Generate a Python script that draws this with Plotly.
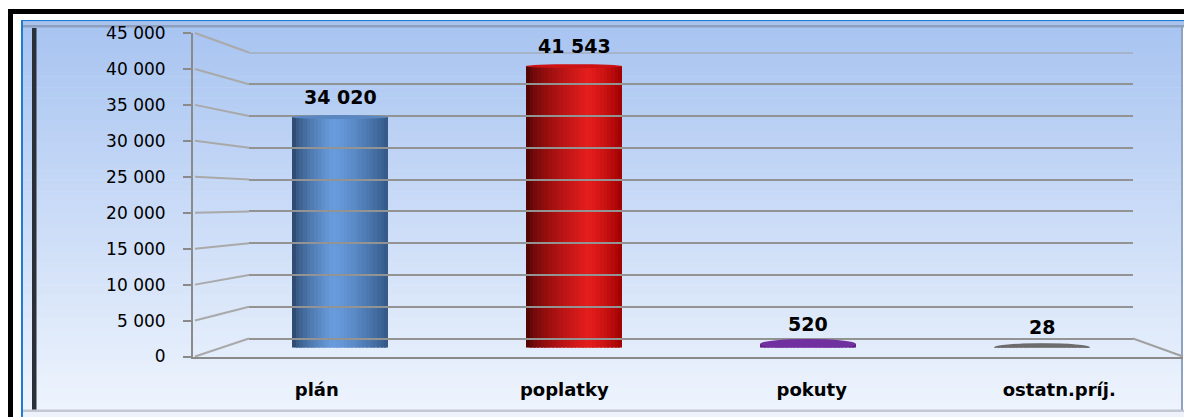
import plotly.graph_objects as go

# ---------------- data ----------------
categories = ["plán", "poplatky", "pokuty", "ostatn.príj."]
values = [34020, 41543, 520, 28]
y_tick_values = [0, 5000, 10000, 15000, 20000, 25000, 30000, 35000, 40000, 45000]
y_max = 45000

# ---------------- style ----------------
W, H = 1184, 417
# cylinder shading: (left dark, highlight, right dark, highlight position)
shades = [
    ((36, 62, 96), (104, 156, 222), (52, 88, 134), 0.42),
    ((66, 0, 0), (228, 28, 28), (158, 0, 0), 0.64),
    ((84, 26, 122), (142, 72, 192), (92, 32, 132), 0.50),
    ((84, 84, 84), (132, 132, 132), (92, 92, 92), 0.50),
]
top_colors = ["#5a86c2", "#cc1212", "#7030a0", "#6c6c6c"]
bottom_colors = ["#7ea6da", "#d84848", "#b080d0", "#a4a4a4"]
cap_half = [2, 2, 5, 4]

# pane geometry (pixels)
FX0, FX1, FY0, FY1 = 193, 1183, 356.5, 33      # front plane
BX0, BX1, BY0, BY1 = 249, 1133, 338.5, 52.5    # back wall
MX0, MX1, MY0, MY1 = 223, 1159, 347.5, 42.75   # mid depth (bars)
BAR_W = 0.41
N_STRIPES = 26


def px(x):
    return x / W


def py(y):
    return 1 - y / H


def lerp(a, b, t):
    return tuple(int(round(a[k] + (b[k] - a[k]) * t)) for k in range(3))


def shade(i, t):
    left, hl, right, p = shades[i]
    if t <= p:
        c = lerp(left, hl, (t / p) ** 0.6)
    else:
        c = lerp(hl, right, ((t - p) / (1 - p)) ** 1.4)
    return "rgb(%d,%d,%d)" % c


fig = go.Figure()

# cylinder stripes
for s in range(N_STRIPES):
    t = (s + 0.5) / N_STRIPES
    off = -BAR_W / 2 + s * BAR_W / N_STRIPES
    wid = min(BAR_W / N_STRIPES * 1.6, BAR_W / 2 - off)
    fig.add_trace(go.Bar(
        x=list(range(len(categories))), y=values,
        offset=off, width=wid,
        marker=dict(color=[shade(i, t) for i in range(len(categories))],
                    line=dict(width=0)),
        xaxis="x", yaxis="y", hoverinfo="skip", showlegend=False,
    ))

# invisible traces so the other axes get drawn
fig.add_trace(go.Scatter(x=[0], y=[0], xaxis="x2", yaxis="y2", mode="markers",
                         marker=dict(opacity=0), hoverinfo="skip", showlegend=False))
fig.add_trace(go.Scatter(x=categories, y=[0] * len(categories), xaxis="x3", yaxis="y3",
                         mode="markers", marker=dict(opacity=0), hoverinfo="skip",
                         showlegend=False))

shapes = []
# background gradient
top_c, bot_c = (168, 196, 241), (238, 244, 253)
y_start, y_end = 27, 410
nb = 70
for b in range(nb):
    ya = y_start + (y_end - y_start) * b / nb
    yb = y_start + (y_end - y_start) * (b + 1) / nb + 0.6
    c = lerp(top_c, bot_c, (b + 0.5) / nb)
    shapes.append(dict(type="rect", xref="paper", yref="paper", layer="below",
                       x0=px(23), x1=px(1183), y0=py(yb), y1=py(ya),
                       fillcolor="rgb(%d,%d,%d)" % c, line=dict(width=0)))


def rect(x0, y0, x1, y1, color):
    shapes.append(dict(type="rect", xref="paper", yref="paper", layer="below",
                       x0=px(x0), x1=px(x1), y0=py(y1), y1=py(y0),
                       fillcolor=color, line=dict(width=0)))


# frame
rect(8, 9, 1184, 14, "#000000")
rect(8, 9, 13, 417, "#000000")
rect(21, 20, 1184, 21.5, "#1f7bd6")
rect(21, 20, 23, 417, "#1f7bd6")
rect(23, 21.5, 1184, 25, "#a9c3ec")
rect(23, 25, 1184, 27.5, "#8c9fbf")
rect(32, 28, 36.5, 410, "#2b3038")
rect(23, 409.5, 1184, 412, "#c4c8d4")
rect(23, 412, 1184, 417, "#eef3fb")
rect(1181, 27, 1183, 410, "#8fa2bf")


def yf(v):
    return FY0 + (FY1 - FY0) * v / y_max


def yb_(v):
    return BY0 + (BY1 - BY0) * v / y_max


# perspective connectors of the grid
for v in y_tick_values:
    shapes.append(dict(type="line", xref="paper", yref="paper", layer="below",
                       x0=px(FX0 + 2), y0=py(yf(v)), x1=px(BX0), y1=py(yb_(v)),
                       line=dict(color="#a9a9a9", width=2)))
shapes.append(dict(type="line", xref="paper", yref="paper", layer="below",
                   x0=px(BX1), y0=py(yb_(0)), x1=px(FX1), y1=py(yf(0)),
                   line=dict(color="#a0a0a0", width=2)))
# top gridline of the back wall (plotly drops the one on the domain edge)
shapes.append(dict(type="line", xref="x2", yref="y2", layer="below",
                   x0=0, x1=1, y0=y_tick_values[-1], y1=y_tick_values[-1],
                   line=dict(color="#a0a0a0", width=2)))

# cylinder bottoms and tops
for i, v in enumerate(values):
    shapes.append(dict(type="circle", xref="x", yref="y", layer="below",
                       x0=i - BAR_W / 2, x1=i + BAR_W / 2,
                       ysizemode="pixel", yanchor=0, y0=-(cap_half[i] + 1.5), y1=cap_half[i],
                       fillcolor=bottom_colors[i], line=dict(width=0)))
    shapes.append(dict(type="circle", xref="x", yref="y", layer="above",
                       x0=i - BAR_W / 2, x1=i + BAR_W / 2,
                       ysizemode="pixel", yanchor=v, y0=-cap_half[i], y1=cap_half[i],
                       fillcolor=top_colors[i], line=dict(width=0)))

# value labels
annotations = []
for i, v in enumerate(values):
    annotations.append(dict(x=i, y=v, xref="x", yref="y",
                            text=f"{v:,}".replace(",", " "), showarrow=False,
                            yanchor="middle", yshift=20,
                            font=dict(family="DejaVu Sans", size=19, color="#000000",
                                      weight="bold")))

fig.update_layout(
    width=W, height=H, autosize=False,
    margin=dict(l=0, r=0, t=0, b=0, pad=0),
    paper_bgcolor="#ffffff", plot_bgcolor="rgba(0,0,0,0)",
    separators=", ",
    barmode="overlay", bargap=0,
    showlegend=False,
    shapes=shapes, annotations=annotations,
    # bars (mid depth)
    xaxis=dict(domain=[px(MX0), px(MX1)], range=[-0.5, len(categories) - 0.5],
               visible=False, anchor="y", fixedrange=True, automargin=False),
    yaxis=dict(domain=[py(MY0), py(MY1)], range=[0, y_max], visible=False,
               anchor="x", fixedrange=True, automargin=False),
    # back wall grid
    xaxis2=dict(domain=[px(BX0), px(BX1)], range=[0, 1], visible=False, anchor="y2",
                automargin=False),
    yaxis2=dict(domain=[py(BY0), py(BY1)], range=[0, y_max], anchor="x2",
                tickvals=y_tick_values, showticklabels=False, ticks="",
                showgrid=True, gridcolor="#939393", gridwidth=2,
                zeroline=True, zerolinecolor="#939393", zerolinewidth=2,
                showline=False, automargin=False),
    # front plane: axis with labels
    xaxis3=dict(domain=[px(FX0), px(FX1)], range=[-0.5, len(categories) - 0.5],
                type="category", anchor="y3", showgrid=False, zeroline=False,
                showline=True, linecolor="#8a8a8a", linewidth=2, ticks="",
                ticklabelstandoff=16, automargin=False,
                tickfont=dict(family="DejaVu Sans", size=18, color="#000000",
                              weight="bold")),
    yaxis3=dict(domain=[py(FY0), py(FY1)], range=[0, y_max], anchor="x3",
                tickvals=y_tick_values, tickformat=",d",
                ticks="outside", ticklen=8, tickcolor="#8a8a8a", tickwidth=2,
                showline=True, linecolor="#8a8a8a", linewidth=2,
                showgrid=False, zeroline=False, ticklabelstandoff=14, automargin=False,
                tickfont=dict(family="DejaVu Sans", size=17, color="#000000")),
)

fig.write_html(
    "out.html",
    config={"responsive": False, "displayModeBar": False},
    post_script="document.body.style.margin='0';document.body.style.overflow='hidden';",
)
